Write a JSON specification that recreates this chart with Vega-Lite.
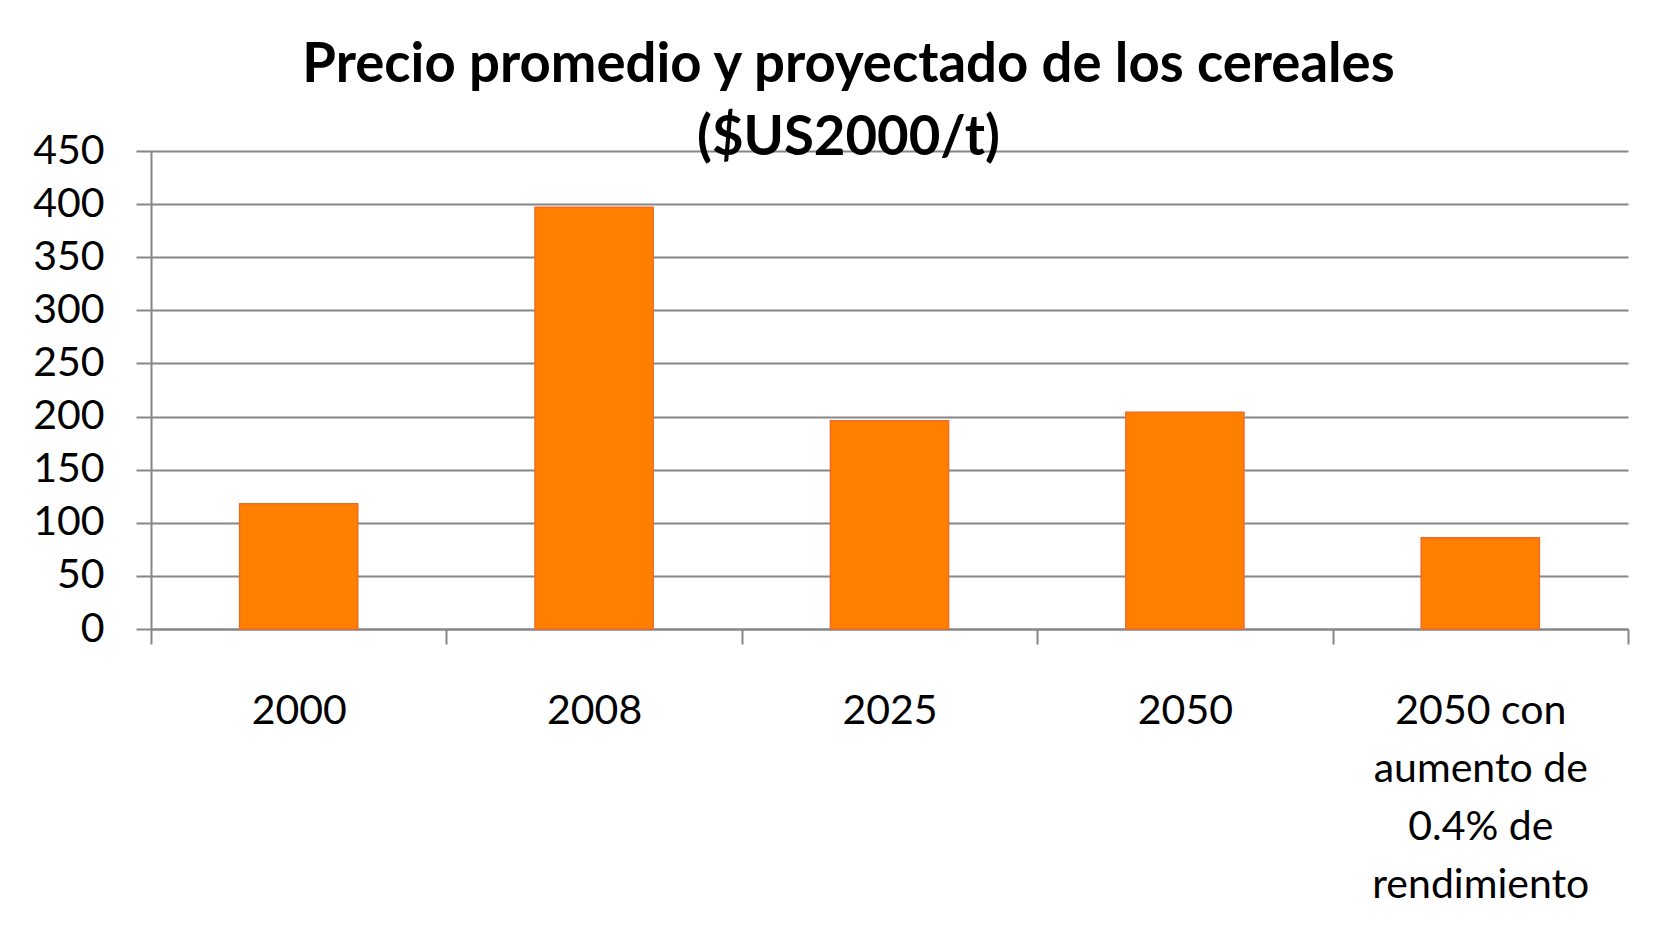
{
  "$schema": "https://vega.github.io/schema/vega-lite/v6.json",
  "width": 1477,
  "height": 478,
  "autosize": {"type": "none"},
  "padding": {"left": 151, "top": 151, "right": 49, "bottom": 315},
  "background": "white",
  "title": {
    "text": ["Precio promedio y proyectado de los cereales", "($US2000/t)"],
    "font": "Lato",
    "fontSize": 54.5,
    "fontWeight": "bold",
    "color": "black",
    "lineHeight": 73,
    "anchor": "middle",
    "frame": "group",
    "dx": -41,
    "offset": -36
  },
  "data": {
    "values": [
      {"periodo": "2000", "precio": 118},
      {"periodo": "2008", "precio": 397},
      {"periodo": "2025", "precio": 196},
      {"periodo": "2050", "precio": 204},
      {"periodo": "2050 con aumento de 0.4% de rendimiento", "precio": 86}
    ]
  },
  "mark": {"type": "bar", "width": {"band": 0.4}, "fill": "#FF8000", "stroke": "#F46A25", "strokeWidth": 1.5},
  "encoding": {
    "x": {
      "field": "periodo",
      "type": "nominal",
      "sort": null,
      "scale": {"paddingInner": 0, "paddingOuter": 0},
      "axis": {
        "title": null,
        "labelAngle": 0,
        "labelFont": "Lato",
        "labelFontSize": 41,
        "labelColor": "black",
        "labelPadding": 47,
        "labelLineHeight": 58,
        "labelBaseline": "top",
        "labelLimit": 0,
        "labelExpr": "datum.value == '2050 con aumento de 0.4% de rendimiento' ? ['2050 con', 'aumento de', '0.4% de', 'rendimiento'] : datum.label",
        "tickBand": "extent",
        "tickSize": 15,
        "tickColor": "#868686",
        "tickWidth": 2,
        "domainColor": "#868686",
        "domainWidth": 2,
        "grid": false
      }
    },
    "y": {
      "field": "precio",
      "type": "quantitative",
      "scale": {"domain": [0, 450], "nice": false},
      "axis": {
        "title": null,
        "values": [0, 50, 100, 150, 200, 250, 300, 350, 400, 450],
        "labelFont": "Lato",
        "labelFontSize": 41,
        "labelColor": "black",
        "labelPadding": 32,
        "labelFlush": false,
        "labelOverlap": false,
        "tickSize": 15,
        "tickColor": "#868686",
        "tickWidth": 2,
        "domainColor": "#868686",
        "domainWidth": 2,
        "gridColor": "#868686",
        "gridWidth": 2
      }
    }
  },
  "config": {"view": {"stroke": null}}
}
